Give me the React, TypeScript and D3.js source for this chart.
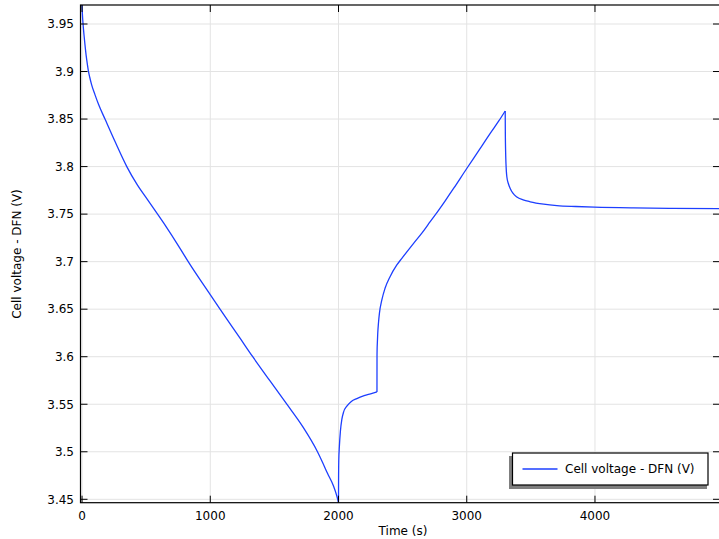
import React from "react";
import * as d3 from "d3";

// Discharge (0 - 2000 s)
const dischargeT: number[] = [0, 3, 8, 15, 23, 32, 41, 49, 60, 75, 100, 130, 179, 260, 349, 430, 512, 640, 764, 828, 1001, 1076, 1232, 1331, 1466, 1597, 1721, 1836, 1875, 1914, 1961, 1987, 2000];
const dischargeV: number[] = [3.970, 3.960, 3.950, 3.939, 3.928, 3.917, 3.908, 3.901, 3.894, 3.886, 3.876, 3.865, 3.850, 3.8255, 3.800, 3.781, 3.765, 3.740, 3.714, 3.700, 3.665, 3.650, 3.6195, 3.600, 3.5745, 3.550, 3.5264, 3.500, 3.489, 3.4773, 3.464, 3.4535, 3.4465];
// Rest (2000 - 2300 s)
const rest1T: number[] = [2000, 2000.5, 2002, 2007, 2015, 2026, 2040, 2065, 2100, 2143, 2200, 2250, 2300];
const rest1V: number[] = [3.4465, 3.470, 3.490, 3.506, 3.522, 3.534, 3.542, 3.548, 3.553, 3.556, 3.559, 3.561, 3.563];
// Charge (2300 - 3300 s)
const chargeT: number[] = [2300, 2300.3, 2301, 2303, 2306, 2312, 2319, 2338, 2363, 2402, 2455, 2494, 2584, 2650, 2715, 2780, 2832, 2900, 3000, 3100, 3183, 3250, 3300];
const chargeV: number[] = [3.563, 3.600, 3.607, 3.615, 3.6246, 3.636, 3.6456, 3.6597, 3.672, 3.6842, 3.6965, 3.7035, 3.719, 3.730, 3.742, 3.754, 3.764, 3.7775, 3.798, 3.818, 3.835, 3.848, 3.8585];
// Rest (3300 - end)
const rest2T: number[] = [3300, 3301, 3303, 3306, 3309, 3313, 3325, 3339, 3360, 3391, 3440, 3495, 3600, 3703, 3850, 3996, 4300, 4600, 4969];
const rest2V: number[] = [3.8585, 3.835, 3.817, 3.803, 3.795, 3.789, 3.782, 3.777, 3.772, 3.768, 3.765, 3.763, 3.7605, 3.759, 3.758, 3.7573, 3.7565, 3.7561, 3.7558];

const xTicks: number[] = [0, 1000, 2000, 3000, 4000];
const yTicks: number[] = [3.45, 3.5, 3.55, 3.6, 3.65, 3.7, 3.75, 3.8, 3.85, 3.9, 3.95];
const yTickLabels: string[] = ["3.45", "3.5", "3.55", "3.6", "3.65", "3.7", "3.75", "3.8", "3.85", "3.9", "3.95"];
const xLabel = "Time (s)";
const yLabel = "Cell voltage - DFN (V)";
const legendLabel = "Cell voltage - DFN (V)";

const W = 719;
const H = 539;
const L = 80.5;
const R = 720;
const T = 5;
const B = 502.7;
const LINE = "#1d3fff";
const FONT = "DejaVu Sans, sans-serif";

export default function App() {
  const x = d3.scaleLinear().domain([-12, 4975]).range([L, R]);
  const y = d3.scaleLinear().domain([3.45, 3.95]).range([499.3, 24]);
  const segments: [number[], number[]][] = [
    [dischargeT, dischargeV],
    [rest1T, rest1V],
    [chargeT, chargeV],
    [rest2T, rest2V],
  ];
  const line = d3
    .line<[number, number]>()
    .x((d) => x(d[0]))
    .y((d) => y(d[1]))
    .curve(d3.curveMonotoneX);

  return (
    <svg
      width={W}
      height={H}
      style={{ position: "absolute", left: 0, top: 0, background: "#fff" }}
      fontFamily={FONT}
    >
      <defs>
        <clipPath id="plotClip">
          <rect x={L} y={T} width={R - L} height={B - T} />
        </clipPath>
      </defs>
      <rect x={0} y={0} width={W} height={H} fill="#fff" />
      {xTicks.map((t) => (
        <line key={"gx" + t} x1={x(t)} x2={x(t)} y1={T} y2={B} stroke="#e3e3e3" strokeWidth={1} />
      ))}
      {yTicks.map((t) => (
        <line key={"gy" + t} x1={L} x2={R} y1={y(t)} y2={y(t)} stroke="#e3e3e3" strokeWidth={1} />
      ))}
      <g clipPath="url(#plotClip)">
        {segments.map(([ts, vs], si) => (
          <path
            key={"seg" + si}
            d={line(ts.map((t, i) => [t, vs[i]] as [number, number])) ?? ""}
            fill="none"
            stroke={LINE}
            strokeWidth={1.3}
          />
        ))}
      </g>
      <rect x={L} y={T} width={R - L} height={B - T} fill="none" stroke="#000" strokeWidth={1.2} />
      {yTicks.map((t) => (
        <g key={"ty" + t}>
          <line x1={L} x2={L + 7} y1={y(t)} y2={y(t)} stroke="#000" strokeWidth={1} />
          <line x1={R - 7} x2={R} y1={y(t)} y2={y(t)} stroke="#000" strokeWidth={1} />
        </g>
      ))}
      {xTicks.map((t) => (
        <g key={"tx" + t}>
          <line x1={x(t)} x2={x(t)} y1={B} y2={B - 7} stroke="#000" strokeWidth={1} />
          <line x1={x(t)} x2={x(t)} y1={T} y2={T + 7} stroke="#000" strokeWidth={1} />
        </g>
      ))}
      {yTicks.map((t, i) => (
        <text key={"ly" + t} x={74} y={y(t) + 4.3} textAnchor="end" fontSize={12} fill="#000">
          {yTickLabels[i]}
        </text>
      ))}
      {xTicks.map((t) => (
        <text key={"lx" + t} x={x(t)} y={520} textAnchor="middle" fontSize={12} fill="#000">
          {String(t)}
        </text>
      ))}
      <text x={403} y={534.5} textAnchor="middle" fontSize={12} fill="#000">
        {xLabel}
      </text>
      <text transform={`translate(21, 254) rotate(-90)`} textAnchor="middle" fontSize={12} fill="#000">
        {yLabel}
      </text>
      <rect x={509} y={456} width={198} height={33} fill="#7f7f7f" />
      <rect x={512.5} y={453} width={195.5} height={32} fill="#fff" stroke="#000" strokeWidth={1.2} />
      <line x1={522.5} x2={557.5} y1={469} y2={469} stroke={LINE} strokeWidth={1.3} />
      <text x={565} y={473.3} fontSize={12} fill="#000">
        {legendLabel}
      </text>
    </svg>
  );
}
